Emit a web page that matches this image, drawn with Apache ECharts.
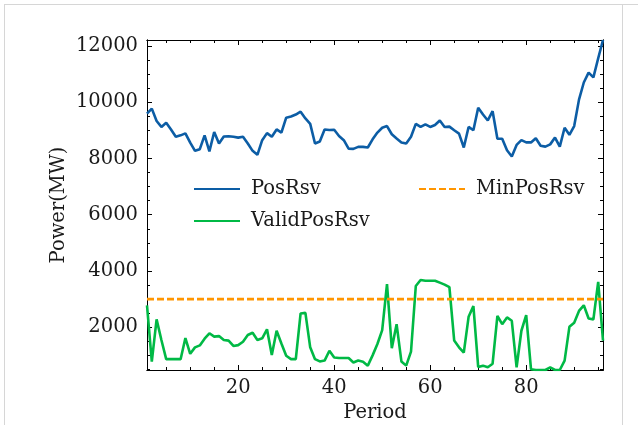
<!DOCTYPE html>
<html>
<head>
<meta charset="utf-8">
<script src="https://cdn.jsdelivr.net/npm/echarts@6/dist/echarts.min.js"></script>
<style>
  html, body { margin: 0; padding: 0; background: #fff; }
  #chart { width: 638px; height: 425px; }
</style>
</head>
<body>
<div id="chart"></div>
<script>
// periods 1..96
var periods = [];
for (var i = 1; i <= 96; i++) periods.push(i);

var posRsv = [
  9590, 9770, 9330, 9120, 9270, 9030, 8770, 8820, 8890, 8560,
  8270, 8330, 8820, 8250, 8940, 8530, 8780, 8790, 8770, 8740,
  8770, 8530, 8270, 8130, 8650, 8900, 8770, 9030, 8920, 9450,
  9490, 9560, 9660, 9420, 9230, 8530, 8600, 9030, 9010, 9020,
  8800, 8650, 8350, 8340, 8410, 8410, 8390, 8680, 8920, 9090,
  9150, 8860, 8710, 8570, 8530, 8770, 9230, 9120, 9210, 9120,
  9190, 9350, 9120, 9130, 9000, 8880, 8390, 9120, 9000, 9800,
  9560, 9350, 9680, 8700, 8700, 8290, 8070, 8480, 8650, 8570,
  8570, 8720, 8450, 8420, 8500, 8740, 8420, 9090, 8840, 9150,
  10090, 10700, 11050, 10880, 11560, 12210
];

var validPosRsv = [
  2780, 780, 2280, 1545, 865, 865, 865, 865, 1615, 1055,
  1285, 1355, 1595, 1785, 1665, 1685, 1545, 1525, 1335, 1365,
  1485, 1725, 1805, 1545, 1605, 1925, 1015, 1875, 1425, 985,
  865, 865, 2490, 2510, 1285, 865, 785, 815, 1165, 925,
  905, 905, 905, 745, 815, 775, 635, 1000, 1405, 1900,
  3535, 1255, 2110, 785, 635, 1135, 3465, 3680, 3655, 3655,
  3655, 3585, 3515, 3425, 1525, 1285, 1095, 2370, 2750, 585,
  635, 575, 705, 2400, 2110, 2350, 2230, 575, 1875, 2430,
  510, 480, 480, 480, 575, 480, 480, 815, 2015, 2160,
  2580, 2780, 2310, 2280, 3615, 1525
];

var minPosRsv = 3000;

var xMajor = [20, 40, 60, 80];
var xMinor = [5, 10, 15, 25, 30, 35, 45, 50, 55, 65, 70, 75, 85, 90, 95];
var yMajor = [2000, 4000, 6000, 8000, 10000, 12000];
var yMinor = [];
for (var v = 500; v <= 12000; v += 500) {
  if (v % 2000 !== 0) yMinor.push(v);
}

var xMin = 1, xMax = 96, yMin = 480, yMax = 12210;
var font = "DejaVu Serif";
var fs = 19.5;
var txt = "#1a1a1a";

function pairs(ys) {
  return ys.map(function (y, k) { return [periods[k], y]; });
}

function xAx(pos, ticks, len, labels) {
  return {
    type: "value", position: pos, min: xMin, max: xMax,
    axisLine: { show: true, onZero: false, lineStyle: { color: "#000", width: 1 } },
    axisTick: { show: true, inside: true, length: len, customValues: ticks,
      lineStyle: { color: "#000", width: 1 } },
    axisLabel: labels ? { show: true, customValues: ticks, margin: 8,
      formatter: function (v) { return String(v); },
      fontFamily: font, fontSize: fs, color: txt } : { show: false },
    splitLine: { show: false }
  };
}

function yAx(pos, ticks, len, labels) {
  return {
    type: "value", position: pos, min: yMin, max: yMax,
    axisLine: { show: true, onZero: false, lineStyle: { color: "#000", width: 1 } },
    axisTick: { show: true, inside: true, length: len, customValues: ticks,
      lineStyle: { color: "#000", width: 1 } },
    axisLabel: labels ? { show: true, customValues: ticks, margin: 9,
      formatter: function (v) { return String(v); },
      fontFamily: font, fontSize: fs, color: txt } : { show: false },
    splitLine: { show: false }
  };
}

var xAxes = [
  xAx("bottom", xMajor, 5, true),
  xAx("bottom", xMinor, 3, false),
  xAx("top", xMajor, 5, false),
  xAx("top", xMinor, 3, false)
];
xAxes[0].name = "Period";
xAxes[0].nameLocation = "middle";
xAxes[0].nameGap = 32;
xAxes[0].nameTextStyle = { fontFamily: font, fontSize: fs, color: txt };

var yAxes = [
  yAx("left", yMajor, 5, true),
  yAx("left", yMinor, 3, false),
  yAx("right", yMajor, 5, false),
  yAx("right", yMinor, 3, false)
];
yAxes[0].name = "Power(MW)";
yAxes[0].nameLocation = "middle";
yAxes[0].nameGap = 78;
yAxes[0].nameMoveOverlap = false;
yAxes[0].nameTextStyle = { fontFamily: font, fontSize: fs, color: txt };

var myChart = echarts.init(document.getElementById("chart"), null, { renderer: "canvas" });

var legendBase = {
  orient: "vertical",
  top: 174,
  itemWidth: 46, itemHeight: 14, itemGap: 12,
  itemStyle: { opacity: 0 },
  textStyle: { fontFamily: font, fontSize: fs, color: txt, padding: [0, 0, 0, 6] }
};

var option = {
  backgroundColor: "#fff",
  animation: false,
  grid: { left: 147, right: 35, top: 40, bottom: 55, containLabel: false, outerBoundsMode: "none" },
  legend: [
    Object.assign({}, legendBase, { data: ["PosRsv", "ValidPosRsv"], left: 188 }),
    Object.assign({}, legendBase, { data: ["MinPosRsv"], left: 413 })
  ],
  xAxis: xAxes,
  yAxis: yAxes,
  graphic: [
    { type: "line", shape: { x1: 4, y1: 4.5, x2: 638, y2: 4.5 }, style: { stroke: "#d6d6d6", lineWidth: 1 } },
    { type: "line", shape: { x1: 4.5, y1: 4, x2: 4.5, y2: 425 }, style: { stroke: "#d6d6d6", lineWidth: 1 } },
    { type: "line", shape: { x1: 622.5, y1: 4, x2: 622.5, y2: 425 }, style: { stroke: "#d6d6d6", lineWidth: 1 } }
  ],
  series: [
    {
      name: "PosRsv", type: "line", symbol: "none",
      data: pairs(posRsv),
      lineStyle: { color: "#0C5DA5", width: 2.6 },
      itemStyle: { color: "#0C5DA5" }
    },
    {
      name: "ValidPosRsv", type: "line", symbol: "none",
      data: pairs(validPosRsv),
      lineStyle: { color: "#00B945", width: 2.6 },
      itemStyle: { color: "#00B945" }
    },
    {
      name: "MinPosRsv", type: "line", symbol: "none",
      data: pairs(periods.map(function () { return minPosRsv; })),
      lineStyle: { color: "#FF9500", width: 2.6, type: [7, 3] },
      itemStyle: { color: "#FF9500" }
    }
  ]
};

myChart.setOption(option);
</script>
</body>
</html>
